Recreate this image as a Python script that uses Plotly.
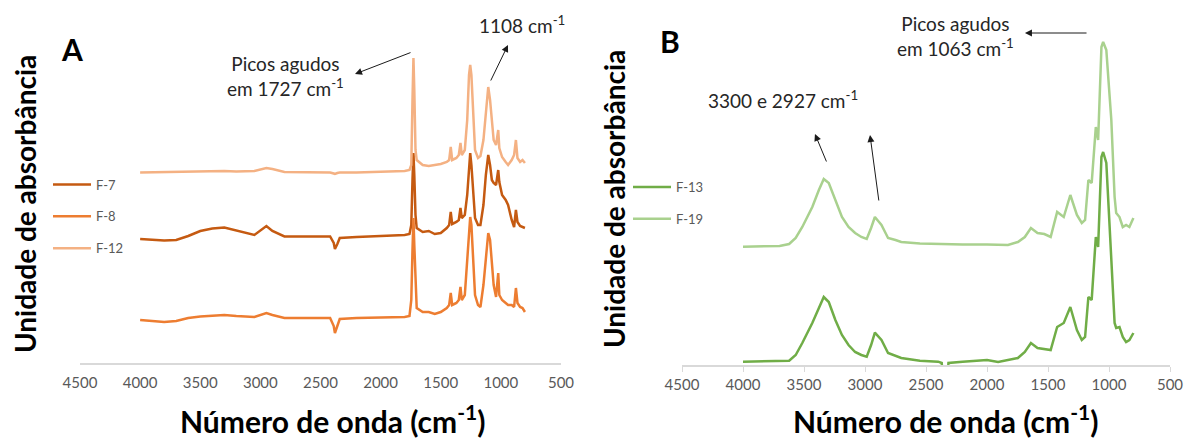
import plotly.graph_objects as go

# ---------------- data ----------------
WN_A = [4000, 3800, 3700, 3600, 3500, 3400, 3300, 3200, 3050, 2950, 2900, 2800, 2600, 2420, 2390, 2380, 2360, 2340,
        2200, 2000, 1800, 1760, 1745, 1735, 1727, 1720, 1710, 1700, 1650, 1600, 1550, 1500, 1450,
        1430, 1417, 1405, 1370, 1350, 1336, 1325, 1300, 1280, 1265, 1255, 1245, 1230, 1215, 1190,
        1170, 1145, 1125, 1105, 1090, 1075, 1060, 1040, 1022, 1013, 990, 960, 940, 910, 890,
        875, 862, 840, 820, 800]

F12 = [1.905, 1.91, 1.915, 1.915, 1.92, 1.92, 1.92, 1.915, 1.92, 1.95, 1.94, 1.91, 1.91, 1.905, 1.895, 1.89, 1.90, 1.905,
       1.905, 1.91, 1.92, 1.93, 1.98, 2.63, 3.05, 2.73, 2.13, 2.03, 1.98, 1.97, 1.98, 1.99, 2.01,
       2.03, 2.16, 2.03, 2.05, 2.08, 2.20, 2.08, 2.13, 2.43, 2.88, 2.98, 2.88, 2.43, 2.13, 2.05,
       2.07, 2.23, 2.53, 2.76, 2.63, 2.38, 2.23, 2.18, 2.33, 2.15, 2.06, 2.01, 1.98, 2.03, 2.08,
       2.23, 2.05, 2.01, 2.03, 2.00]

F7 = [1.24, 1.225, 1.23, 1.27, 1.32, 1.345, 1.355, 1.325, 1.28, 1.37, 1.32, 1.265, 1.265, 1.265, 1.20, 1.14, 1.19, 1.25,
      1.26, 1.27, 1.28, 1.29, 1.38, 1.83, 2.10, 1.88, 1.48, 1.35, 1.31, 1.32, 1.29, 1.30, 1.35,
      1.38, 1.51, 1.39, 1.41, 1.43, 1.55, 1.45, 1.48, 1.68, 1.98, 2.10, 1.98, 1.68, 1.45, 1.38,
      1.38, 1.58, 1.88, 2.08, 1.98, 1.83, 1.80, 1.78, 1.93, 1.81, 1.68, 1.63, 1.58, 1.43, 1.36,
      1.53, 1.41, 1.37, 1.36, 1.35]

F8 = [0.43, 0.41, 0.42, 0.45, 0.465, 0.475, 0.48, 0.47, 0.46, 0.50, 0.48, 0.45, 0.45, 0.45, 0.37, 0.30, 0.37, 0.44,
      0.45, 0.455, 0.46, 0.47, 0.63, 1.13, 1.45, 1.18, 0.73, 0.55, 0.51, 0.51, 0.49, 0.51, 0.55,
      0.58, 0.70, 0.58, 0.60, 0.63, 0.76, 0.63, 0.68, 1.03, 1.38, 1.46, 1.38, 1.03, 0.68, 0.58,
      0.56, 0.78, 1.08, 1.30, 1.23, 1.03, 0.78, 0.66, 0.90, 0.68, 0.63, 0.60, 0.58, 0.58, 0.56,
      0.75, 0.60, 0.56, 0.55, 0.51]

WN_B = [4000, 3850, 3700, 3622, 3568, 3514, 3432, 3378, 3338, 3297, 3243, 3189, 3135, 3081, 3030,
        2986, 2950, 2919, 2865, 2811, 2750, 2703, 2550, 2400, 2371, 2355, 2330, 2316, 2200, 2000,
        1909, 1828, 1747, 1690, 1640, 1586, 1530, 1478, 1425, 1371, 1317, 1263, 1223, 1196, 1169,
        1142, 1108, 1089, 1062, 1048, 1022, 995, 981, 954, 941, 914, 887, 860, 833, 800]

F19 = [1.183, 1.185, 1.19, 1.21, 1.27, 1.38, 1.58, 1.75, 1.86, 1.82, 1.65, 1.48, 1.38, 1.32, 1.28,
       1.26, 1.37, 1.48, 1.40, 1.27, 1.25, 1.23, 1.215, 1.21, 1.21, 1.21, 1.21, 1.21, 1.205, 1.205,
       1.20, 1.20, 1.23, 1.28, 1.37, 1.32, 1.31, 1.28, 1.53, 1.48, 1.70, 1.50, 1.42, 1.45, 1.85,
       1.82, 2.38, 2.25, 3.18, 3.23, 3.15, 2.68, 2.45, 1.68, 1.52, 1.48, 1.38, 1.40, 1.38, 1.47]

F13 = [0.033, 0.035, 0.04, 0.043, 0.10, 0.22, 0.42, 0.58, 0.68, 0.63, 0.45, 0.30, 0.20, 0.13, 0.10,
       0.083, 0.20, 0.323, 0.25, 0.12, 0.09, 0.07, 0.043, 0.033, 0.02, -0.25, -0.25, 0.02, 0.033, 0.05,
       0.03, 0.05, 0.07, 0.13, 0.22, 0.17, 0.16, 0.15, 0.38, 0.42, 0.58, 0.35, 0.25, 0.28, 0.68,
       0.65, 1.28, 1.18, 2.08, 2.13, 2.02, 1.35, 1.02, 0.42, 0.37, 0.38, 0.28, 0.23, 0.25, 0.32]

TICKS = [4500, 4000, 3500, 3000, 2500, 2000, 1500, 1000, 500]

# ---------------- figure ----------------
W, H = 1187, 441
FONT = "Lato"
fig = go.Figure()

def add(x, y, name, color, xa, ya, legend, group):
    fig.add_trace(go.Scatter(x=x, y=y, name=name, mode="lines",
                             line=dict(color=color, width=2.5),
                             xaxis=xa, yaxis=ya, legend=legend, legendgroup=group))

add(WN_A, F7, "F-7", "#C55A11", "x", "y", "legend", "a1")
add(WN_A, F8, "F-8", "#ED7D31", "x", "y", "legend", "a2")
add(WN_A, F12, "F-12", "#F4B183", "x", "y", "legend", "a3")
add(WN_B, F13, "F-13", "#70AD47", "x2", "y2", "legend2", "b1")
add(WN_B, F19, "F-19", "#A9D18E", "x2", "y2", "legend2", "b2")

def px(v):
    return v / W

def py(v):
    return 1 - v / H

xcommon = dict(range=[4500, 500], tickvals=TICKS, ticktext=[str(t) for t in TICKS],
               showgrid=False, zeroline=False, showline=True, linecolor="#D9D9D9", linewidth=1.5,
               ticks="outside", ticklen=5, tickwidth=1.2,
               tickfont=dict(family=FONT, size=15, color="#595959"))

legfont = dict(family=FONT, size=13, color="#595959")
fig.update_layout(
    width=W, height=H, margin=dict(l=0, r=0, t=0, b=0, autoexpand=False),
    paper_bgcolor="white", plot_bgcolor="white",
    font=dict(family=FONT),
    xaxis=dict(domain=[px(80), px(561)], anchor="y", tickcolor="rgba(0,0,0,0)", **xcommon),
    yaxis=dict(domain=[py(363), py(20)], range=[0, 3.43], visible=False, anchor="x"),
    xaxis2=dict(domain=[px(682), px(1170)], anchor="y2", tickcolor="#D9D9D9", **xcommon),
    yaxis2=dict(domain=[py(365), py(20)], range=[0, 3.45], visible=False, anchor="x2"),
    legend=dict(x=px(48), y=py(216.5), xanchor="left", yanchor="middle", font=legfont,
                tracegroupgap=12, itemwidth=38, bgcolor="rgba(0,0,0,0)"),
    legend2=dict(x=px(628), y=py(203), xanchor="left", yanchor="middle", font=legfont,
                 tracegroupgap=12, itemwidth=38, bgcolor="rgba(0,0,0,0)"),
    showlegend=True,
)

ann = []
def text(x, y, t, size, bold=False, color="#262626", angle=0, yanchor="middle"):
    ann.append(dict(x=px(x), y=py(y), xref="paper", yref="paper", text=t, showarrow=False,
                    textangle=angle, xanchor="center", yanchor=yanchor,
                    font=dict(family=FONT, size=size, color=color,
                              weight="bold" if bold else "normal")))

text(72, 49, "A", 30, bold=True, color="black")
text(670, 41, "B", 30, bold=True, color="black")
text(285, 76, "Picos agudos<br>em 1727 cm<sup>-1</sup>", 19)
text(522, 25, "1108 cm<sup>-1</sup>", 19)
text(955, 36, "Picos agudos<br>em 1063 cm<sup>-1</sup>", 19)
text(783, 99, "3300 e 2927 cm<sup>-1</sup>", 19)
text(332, 441, "Número de onda (cm<sup>-1</sup>)", 30, bold=True, color="black", yanchor="bottom")
text(945, 441, "Número de onda (cm<sup>-1</sup>)", 30, bold=True, color="black", yanchor="bottom")
text(25, 204, "Unidade de absorbância", 28, bold=True, color="black", angle=-90)
text(614, 199, "Unidade de absorbância", 28, bold=True, color="black", angle=-90)

def arrow(xa, ya, tail, head):
    ann.append(dict(x=head[0], y=head[1], ax=tail[0], ay=tail[1], xref=xa, yref=ya,
                    axref=xa, ayref=ya, text="", showarrow=True, arrowhead=2, arrowsize=1.4,
                    arrowwidth=1, arrowcolor="#1a1a1a", standoff=0, startstandoff=0))

arrow("x", "y", (1739, 3.11), (2213, 2.89))
arrow("x", "y", (1090, 2.81), (941, 3.18))
arrow("x2", "y2", (1172, 3.32), (1689, 3.32))
arrow("x2", "y2", (3311, 2.02), (3410, 2.31))
arrow("x2", "y2", (2885, 1.63), (2959, 2.30))

fig.update_layout(annotations=ann)
fig.write_html("out.html", config={"displayModeBar": False},
               post_script="document.body.style.margin='0';")
